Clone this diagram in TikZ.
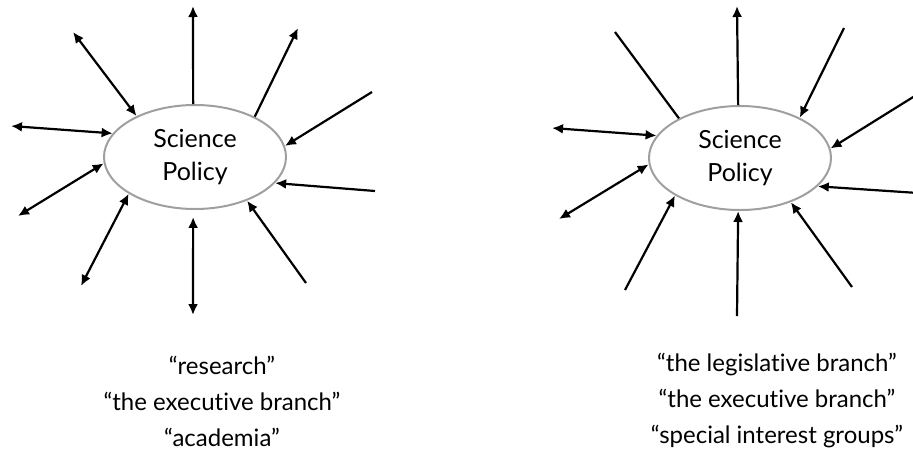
\documentclass[tikz,border=0pt]{standalone}
\usepackage{fontspec}
\setmainfont{Lato}[Ligatures=NoCommon]
\usetikzlibrary{arrows.meta,shapes.geometric}

\tikzset{
  policy/.style={ellipse, draw=gray!75, line width=2pt, minimum width=182pt,
    minimum height=104pt, inner sep=0pt, align=center,
    font=\fontsize{25}{33}\selectfont},
  link/.style={line width=2.2pt, >={Latex[length=11pt,width=10pt]}},
  caption/.style={align=center, font=\fontsize{24}{36}\selectfont}
}

\begin{document}
\begin{tikzpicture}[x=1pt,y=-1pt]
  \useasboundingbox (0,0) rectangle (913,472);

  % === LEFT DIAGRAM ===
  \node[policy] (spL) at (195,157) {Science\\Policy};
  \coordinate (L1) at (193,6);
  \coordinate (L2) at (298,28);
  \coordinate (L3) at (372,92);
  \coordinate (L4) at (375,191);
  \coordinate (L5) at (306,283);
  \coordinate (L6) at (193,315);
  \coordinate (L7) at (81,286);
  \coordinate (L8) at (18,216);
  \coordinate (L9) at (11,126);
  \coordinate (L10) at (73,32);

  \draw[link,->] (spL.92) -- (L1);
  \draw[link,->] (spL.34) -- (L2);
  \draw[link,->] (L3) -- (spL.7);
  \draw[link,->] (L4) -- (spL.-18);
  \draw[link,->] (L5) -- (spL.-40);
  \draw[link,<->,shorten <=7pt] (spL.-92) -- (L6);
  \draw[link,<->] (spL.209) -- (L7);
  \draw[link,<->] (spL.184) -- (L8);
  \draw[link,<->] (spL.164) -- (L9);
  \draw[link,<->] (spL.145) -- (L10);

  \node[caption] (capL) at (222,401)
    {``research''\\``the executive branch''\\``academia''};

  % === RIGHT DIAGRAM ===
  \node[policy] (spR) at (740,158) {Science\\Policy};
  \coordinate (R1) at (737,6);
  \coordinate (R2) at (844,28);
  \coordinate (R3) at (918,94);
  \coordinate (R4) at (918,193);
  \coordinate (R5) at (852,287);
  \coordinate (R6) at (737,316);
  \coordinate (R7) at (625,290);
  \coordinate (R8) at (559,219);
  \coordinate (R9) at (552,128);
  \coordinate (R10) at (615,32);

  \draw[link,->] (spR.92) -- (R1);
  \draw[link,->] (R2) -- (spR.34);
  \draw[link,->] (R3) -- (spR.6);
  \draw[link,->] (R4) -- (spR.-20);
  \draw[link,->] (R5) -- (spR.-41);
  \draw[link,->] (R6) -- (spR.-92);
  \draw[link,->] (R7) -- (spR.210);
  \draw[link,<->] (spR.184) -- (R8);
  \draw[link,<->] (spR.165) -- (R9);
  \draw[link] (spR.147) -- (R10);

  \node[caption] (capR) at (777,401)
    {``the legislative branch''\\``the executive branch''\\``special interest groups''};
\end{tikzpicture}
\end{document}
